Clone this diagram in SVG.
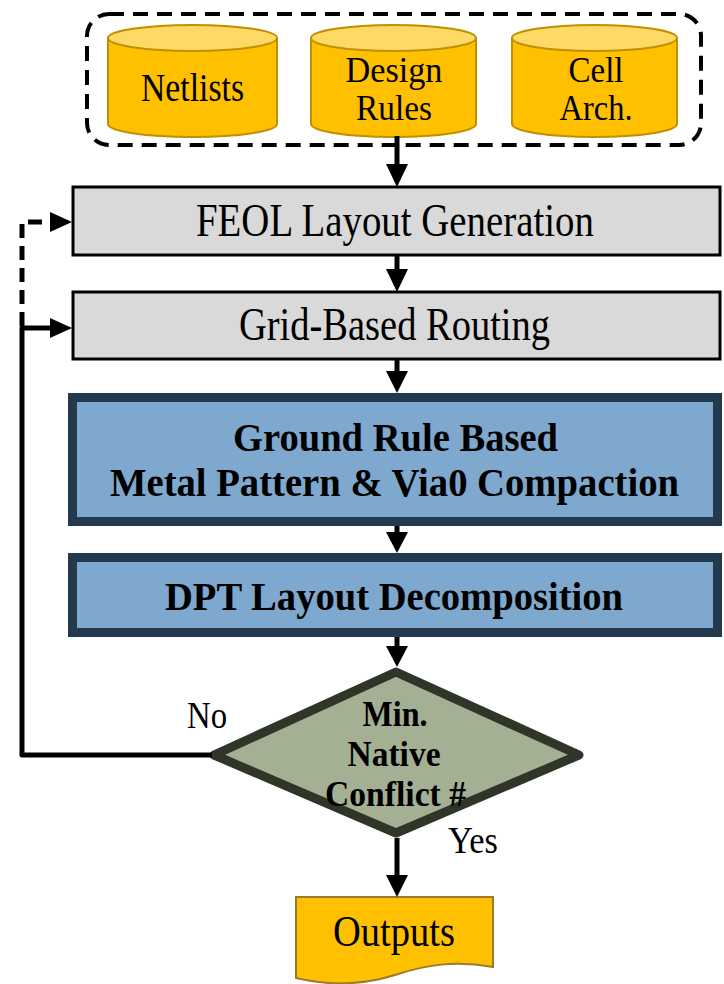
<svg xmlns="http://www.w3.org/2000/svg" width="724" height="984" viewBox="0 0 724 984">
  <style>
    text { font-family: "Liberation Serif", "Times New Roman", serif; fill: #000; text-anchor: middle; }
    .b { font-weight: bold; }
    .cyl-body { fill: #ffc000; stroke: #bf9000; stroke-width: 2; }
    .cyl-top { fill: #ffd966; stroke: #bf9000; stroke-width: 2; }
    .gray { fill: #d9d9d9; stroke: #000; stroke-width: 3; }
    .blue { fill: #7ea8cd; stroke: #233a4e; stroke-width: 9; }
    .wire { fill: none; stroke: #000; stroke-width: 5; stroke-linejoin: round; }
    .head { fill: #000; }
  </style>
  <rect width="724" height="984" fill="#ffffff"/>

  <!-- input container -->
  <g id="inputs">
    <rect x="87" y="14" width="614" height="131" rx="22" fill="none" stroke="#000" stroke-width="4" stroke-dasharray="15 9"/>
  </g>

  <g id="netlists">
    <path class="cyl-body" d="M108,38 L108,124 A84.5,13 0 0 0 277,124 L277,38 Z"/>
    <ellipse class="cyl-top" cx="192.5" cy="38" rx="84.5" ry="13"/>
    <text x="192.5" y="101" font-size="40" textLength="103" lengthAdjust="spacingAndGlyphs">Netlists</text>
  </g>

  <g id="design-rules">
    <path class="cyl-body" d="M311,38 L311,124 A82.5,13 0 0 0 476,124 L476,38 Z"/>
    <ellipse class="cyl-top" cx="393.5" cy="38" rx="82.5" ry="13"/>
    <text x="394" y="82" font-size="36" textLength="97" lengthAdjust="spacingAndGlyphs">Design</text>
    <text x="394" y="120" font-size="36" textLength="76" lengthAdjust="spacingAndGlyphs">Rules</text>
  </g>

  <g id="cell-arch">
    <path class="cyl-body" d="M512,38 L512,124 A82.5,13 0 0 0 677,124 L677,38 Z"/>
    <ellipse class="cyl-top" cx="594.5" cy="38" rx="82.5" ry="13"/>
    <text x="596" y="82" font-size="36" textLength="55" lengthAdjust="spacingAndGlyphs">Cell</text>
    <text x="596" y="120" font-size="36" textLength="73" lengthAdjust="spacingAndGlyphs">Arch.</text>
  </g>

  <g id="feol">
    <rect class="gray" x="73" y="187" width="647" height="68"/>
    <text x="395" y="236" font-size="46" textLength="398" lengthAdjust="spacingAndGlyphs">FEOL Layout Generation</text>
  </g>

  <g id="routing">
    <rect class="gray" x="73" y="292" width="647" height="67"/>
    <text x="394.5" y="340" font-size="46" textLength="311" lengthAdjust="spacingAndGlyphs">Grid-Based Routing</text>
  </g>

  <g id="compaction">
    <rect class="blue" x="72.5" y="397.5" width="645" height="124"/>
    <text class="b" x="395.5" y="451" font-size="40" textLength="325" lengthAdjust="spacingAndGlyphs">Ground Rule Based</text>
    <text class="b" x="394.5" y="496" font-size="40" textLength="569" lengthAdjust="spacingAndGlyphs">Metal Pattern &amp; Via0 Compaction</text>
  </g>

  <g id="decomposition">
    <rect class="blue" x="72.5" y="557.5" width="645" height="75"/>
    <text class="b" x="394" y="610" font-size="40" textLength="458" lengthAdjust="spacingAndGlyphs">DPT Layout Decomposition</text>
  </g>

  <g id="decision">
    <polygon points="396,672 579,755 396,833 214,755" fill="#a3b093" stroke="#2f3528" stroke-width="9" stroke-linejoin="round"/>
    <text class="b" x="395" y="726" font-size="36" textLength="65" lengthAdjust="spacingAndGlyphs">Min.</text>
    <text class="b" x="394" y="766" font-size="36" textLength="93" lengthAdjust="spacingAndGlyphs">Native</text>
    <text class="b" x="395.5" y="806" font-size="36" textLength="141" lengthAdjust="spacingAndGlyphs">Conflict #</text>
  </g>

  <g id="outputs">
    <path d="M296,897 H493 V967 C455,960 425,965 395,975 C360,986 325,985 296,978 Z" fill="#ffc000" stroke="#9c7a2a" stroke-width="2"/>
    <text x="394" y="946" font-size="44" textLength="122" lengthAdjust="spacingAndGlyphs">Outputs</text>
  </g>

  <g id="labels">
    <text x="207" y="728" font-size="37" textLength="40" lengthAdjust="spacingAndGlyphs">No</text>
    <text x="473" y="853" font-size="37" textLength="50" lengthAdjust="spacingAndGlyphs">Yes</text>
  </g>

  <!-- connectors -->
  <g id="connectors">
    <line class="wire" x1="397" y1="136" x2="397" y2="166"/>
    <polygon class="head" points="386,164 408,164 397,187"/>

    <line class="wire" x1="397" y1="255" x2="397" y2="271"/>
    <polygon class="head" points="386,269 408,269 397,292"/>

    <line class="wire" x1="397" y1="359" x2="397" y2="374"/>
    <polygon class="head" points="386,371 408,371 397,393"/>

    <line class="wire" x1="397" y1="526" x2="397" y2="534"/>
    <polygon class="head" points="386,532 408,532 397,553"/>

    <line class="wire" x1="397" y1="637" x2="397" y2="648"/>
    <polygon class="head" points="386,646 408,646 397,667"/>

    <line class="wire" x1="397" y1="838" x2="397" y2="877"/>
    <polygon class="head" points="386,875 408,875 397,897"/>

    <!-- "No" loop back to routing -->
    <polyline class="wire" points="212,755 22,755 22,328 52,328"/>
    <polygon class="head" points="50,318 50,338 72,328"/>

    <!-- dashed return to FEOL generation -->
    <polyline class="wire" points="22,326 22,222 52,222" stroke-dasharray="14 8"/>
    <polygon class="head" points="50,212 50,232 72,222"/>
  </g>
</svg>
